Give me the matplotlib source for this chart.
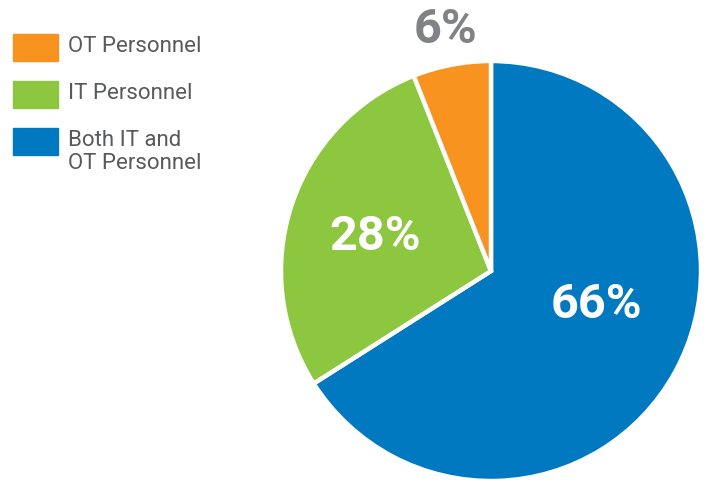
import matplotlib.pyplot as plt
from matplotlib.patches import Rectangle

# Who handles the work: share of respondents
labels = ["Both IT and\nOT Personnel", "IT Personnel", "OT Personnel"]
shares = [66, 28, 6]
colors = ["#0079C1", "#8DC63F", "#F7931E"]

legend_order = [2, 1, 0]  # OT, IT, Both

plt.rcParams["font.family"] = ["Roboto", "DejaVu Sans"]

fig = plt.figure(figsize=(7.07, 4.8), dpi=100)

# pie axes: centre (491, 271) px, radius 210 px
W, H = 707, 480
cx, cy, r = 491, 271, 210
ax = fig.add_axes([(cx - r) / W, (H - cy - r) / H, 2 * r / W, 2 * r / H])

wedges, _ = ax.pie(
    shares,
    colors=colors,
    startangle=90,
    counterclock=False,
    radius=1,
    wedgeprops=dict(edgecolor="white", linewidth=3.2),
)
ax.set_xlim(-1, 1)
ax.set_ylim(-1, 1)
ax.set_aspect("equal")
ax.axis("off")

# percentage labels
ax.text(0.50, -0.16, f"{shares[0]}%", color="white", fontsize=35,
        fontweight="bold", ha="center", va="center")
ax.text(-0.55, 0.16, f"{shares[1]}%", color="white", fontsize=35,
        fontweight="bold", ha="center", va="center")
ax.text(-0.215, 1.15, f"{shares[2]}%", color="#808285", fontsize=35,
        fontweight="bold", ha="center", va="center", clip_on=False)

# legend swatches and text on the left
top = 34
for k, i in enumerate(legend_order):
    y0 = top + k * 47
    fig.patches.append(Rectangle((13 / W, 1 - (y0 + 27) / H), 45 / W, 27 / H,
                                 transform=fig.transFigure, color=colors[i]))
    fig.text(68 / W, 1 - (y0 + 2) / H, labels[i], color="#58595B",
             fontsize=16, ha="left", va="top", linespacing=1.1)

fig.savefig("out.png", dpi=100)
